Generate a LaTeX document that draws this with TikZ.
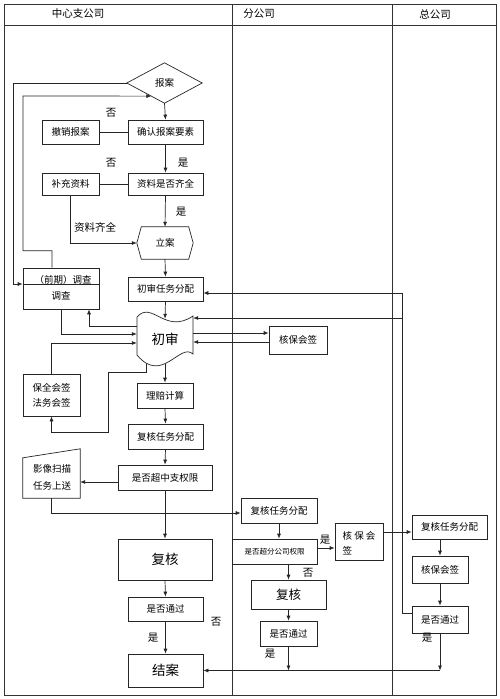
\documentclass[tikz,border=0pt]{standalone}
\usepackage{fontspec}
\setmainfont{Noto Sans CJK SC}
\usetikzlibrary{arrows.meta,calc}
\begin{document}
\begin{tikzpicture}[x=1pt,y=-1pt,
  every node/.style={inner sep=0pt, font=\fontsize{9.5}{11}\selectfont},
  box/.style={draw=black!85, line width=0.7pt},
  shp/.style={draw=black!85, line width=0.7pt},
  ln/.style={draw=black!85, line width=0.7pt},
  arr/.style={ln, -{Latex[length=5pt,width=4pt]}},
  lbl/.style={font=\fontsize{10.5}{12}\selectfont},
  big/.style={font=\fontsize{13.5}{15}\selectfont},
  frame/.style={draw=black!80, line width=0.8pt}]

\useasboundingbox[fill=white] (0,0) rectangle (500,699);

% frame and lanes
\draw[frame] (4,4) rectangle (496,695);
\draw[frame] (4,25) -- (496,25);
\draw[frame] (232,4) -- (232,695);
\draw[frame] (392,4) -- (392,695);
\node[font=\fontsize{10.5}{12}\selectfont] (h1) at (78,14) {中心支公司};
\node[font=\fontsize{10.5}{12}\selectfont] (h2) at (259,14) {分公司};
\node[font=\fontsize{10.5}{12}\selectfont] (h3) at (435,14) {总公司};

% ---- centre lane ----
\node[minimum width=75pt, minimum height=40pt] (baoan) at (164.5,83) {报案};
\draw[shp] (baoan.west) -- (baoan.north) -- (baoan.east) -- (baoan.south) -- cycle;

\node[box, minimum width=75pt, minimum height=24pt] (queren) at (165.5,132) {确认报案要素};
\node[box, minimum width=57pt, minimum height=24pt] (chexiao) at (70.5,132) {撤销报案};
\node[box, minimum width=75pt, minimum height=22pt] (ziliao) at (165.5,184) {资料是否齐全};
\node[box, minimum width=57pt, minimum height=22pt] (buchong) at (70.5,184) {补充资料};

\node[minimum width=56pt, minimum height=32pt] (lian) at (165,243) {立案};
\draw[shp] (lian.west) -- ([xshift=4.5pt]lian.north west) -- ([xshift=-4.5pt]lian.north east)
  -- (lian.east) -- ([xshift=-4.5pt]lian.south east) -- ([xshift=4.5pt]lian.south west) -- cycle;

\node[box, minimum width=75pt, minimum height=24pt] (chushenfp) at (165.5,289) {初审任务分配};

\node[box, minimum width=76pt, minimum height=41pt] (diaocha) at (61,288.5) {};
\node (dc1) at (63,279.5) {（前期）调查};
\node (dc2) at (61,296) {调查};

\node[minimum width=56pt, minimum height=55pt, big] (chushen) at (165,339.5) {初审};
\draw[shp] (137,317) .. controls (152,300) and (165,335) .. (193,316) -- (193,354)
  .. controls (180,342) and (162,385) .. (137,355) -- cycle;

\node[box, minimum width=58pt, minimum height=28pt] (hebaoA) at (298,340) {核保会签};

\node[box, minimum width=57pt, minimum height=42pt, align=center,
  font=\fontsize{9.5}{15}\selectfont] (baoquan) at (51.5,395) {保全会签\\法务会签};

\node[box, minimum width=56pt, minimum height=25pt] (lipei) at (165,395.5) {理赔计算};
\node[box, minimum width=75pt, minimum height=25pt] (fuhefp) at (165.5,436.5) {复核任务分配};
\node[box, minimum width=94pt, minimum height=25pt] (chaozhong) at (165,477.5) {是否超中支权限};

\node[minimum width=57pt, minimum height=49pt] (yingxiang) at (51.5,473.5) {};
\draw[shp] ([yshift=-9pt]yingxiang.north west) -- (yingxiang.north east) -- (yingxiang.south east)
  -- (yingxiang.south west) -- cycle;
\node[align=center, font=\fontsize{9.5}{17}\selectfont] (yxtext) at (52,477.5) {影像扫描\\任务上送};

\node[box, minimum width=94pt, minimum height=41pt, big] (fuhe) at (165,559.5) {复核};
\node[box, minimum width=75pt, minimum height=24pt] (tongguo) at (165.5,609) {是否通过};
\node[box, minimum width=75pt, minimum height=33pt, big] (jiean) at (165.5,670.5) {结案};

% ---- branch lane ----
\node[box, minimum width=76pt, minimum height=25pt] (bfuhefp) at (279,510.5) {复核任务分配};
\node[box, minimum width=85pt, minimum height=25pt, font=\fontsize{7.5}{9}\selectfont] (bchao) at (274.5,551.5) {是否超分公司权限};
\node[box, minimum width=48pt, minimum height=37pt] (bhebao) at (359,541.5) {};
\node[align=left, font=\fontsize{9.5}{15}\selectfont] (bhbtext) at (359,543.5) {核 保 会\\签};
\node[box, minimum width=75pt, minimum height=29pt, font=\fontsize{12.5}{14}\selectfont] (bfuhe) at (288.5,594.5) {复核};
\node[box, minimum width=57pt, minimum height=25pt] (btongguo) at (288.5,633.5) {是否通过};

% ---- head office lane ----
\node[box, minimum width=75pt, minimum height=24pt] (zfuhefp) at (449.5,527) {复核任务分配};
\node[box, minimum width=56pt, minimum height=27pt] (zhebao) at (440,569.5) {核保会签};
\node[box, minimum width=56pt, minimum height=27pt] (ztongguo) at (440,619.5) {是否通过};

% ---- connectors ----
\draw[arr] (baoan.south) -- (queren.north);
\draw[ln] (queren.west) -- (chexiao.east);
\draw[arr] (queren.south) -- (ziliao.north);
\draw[ln] (ziliao.west) -- (buchong.east);
\draw[arr] (ziliao.south) -- (lian.north);
\draw[arr] (buchong.south) |- (lian.west);
\draw[arr] (lian.south) -- (chushenfp.north);
\draw[arr] (chushenfp.south) -- ([yshift=-7pt]chushen.north);

% loops to the report diamond / investigation
\draw[arr] (baoan.west) -| (13,284) -- (diaocha.west |- 0,284);
\draw[ln] (diaocha.west |- 0,284) -- (diaocha.east |- 0,284);
\draw[arr] ([xshift=-9pt]diaocha.north) -- ++(0,-17) -| (23,96) -- ($(baoan.west)!0.65!(baoan.south)$);

% investigation <-> first review
\draw[arr] (diaocha.south) |- (chushen.west |- 0,334);
\draw[arr] (chushen.west |- 0,326) -| ([xshift=28pt]diaocha.south);
\draw[arr] (baoquan.north) |- (chushen.west |- 0,343);
\draw[arr] ([xshift=10pt,yshift=3pt]chushen.south west) -- ++(0,8) -| (108,432) -| (baoquan.south);
\draw[arr] (chushen.east |- 0,333) -- (hebaoA.west |- 0,333);
\draw[arr] (hebaoA.west |- 0,342) -- (chushen.east |- 0,342);

\draw[arr] ([yshift=3pt]chushen.south) -- (lipei.north);
\draw[arr] (lipei.south) -- (fuhefp.north);
\draw[arr] (fuhefp.south) -- (chaozhong.north);
\draw[arr] (chaozhong.west |- 0,482) -- (yingxiang.east |- 0,482);
\draw[arr] (yingxiang.south) |- (bfuhefp.west |- 0,513);
\draw[arr] (chaozhong.south) -- (fuhe.north);
\draw[arr] (fuhe.south) -- (tongguo.north);
\draw[arr] (tongguo.south) -- (jiean.north);

% branch lane flow
\draw[arr] (bfuhefp.south) -- (bfuhefp.south |- bchao.north);
\draw[arr] (bchao.east |- 0,548) -- (bhebao.west |- 0,548);
\draw[arr] (bhebao.east |- 0,532) -- (zfuhefp.west |- 0,532);
\draw[arr] (bfuhe.north |- bchao.south) -- (bfuhe.north);
\draw[arr] (bfuhe.south) -- (btongguo.north);
\draw[arr] (btongguo.south) -- (btongguo.south |- jiean.east);

% head office flow
\draw[arr] (zhebao.north |- zfuhefp.south) -- (zhebao.north);
\draw[arr] (zhebao.south) -- (ztongguo.north);
\draw[arr] (ztongguo.south) -- (ztongguo.south |- jiean.east);
\draw[arr] (ztongguo.south |- jiean.east) -- (jiean.east);

% return from head office to first review
\draw[arr] (ztongguo.west |- 0,613) -| (402,293) -- (chushenfp.east |- 0,293);
\draw[arr] (402,318) -- (chushen.east |- 0,318);

% ---- labels ----
\node[lbl] (l1) at (111,113) {否};
\node[lbl] (l2) at (111,163) {否};
\node[lbl] (l3) at (183,163) {是};
\node[lbl] (l4) at (181,212) {是};
\node[lbl] (l5) at (95,227) {资料齐全};
\node[lbl] (l6) at (216,622) {否};
\node[lbl] (l7) at (153,638) {是};
\node[lbl] (l8) at (325,540) {是};
\node[lbl] (l9) at (308,573) {否};
\node[lbl] (l10) at (270,654) {是};
\node[lbl] (l11) at (427,638) {是};
\end{tikzpicture}
\end{document}
